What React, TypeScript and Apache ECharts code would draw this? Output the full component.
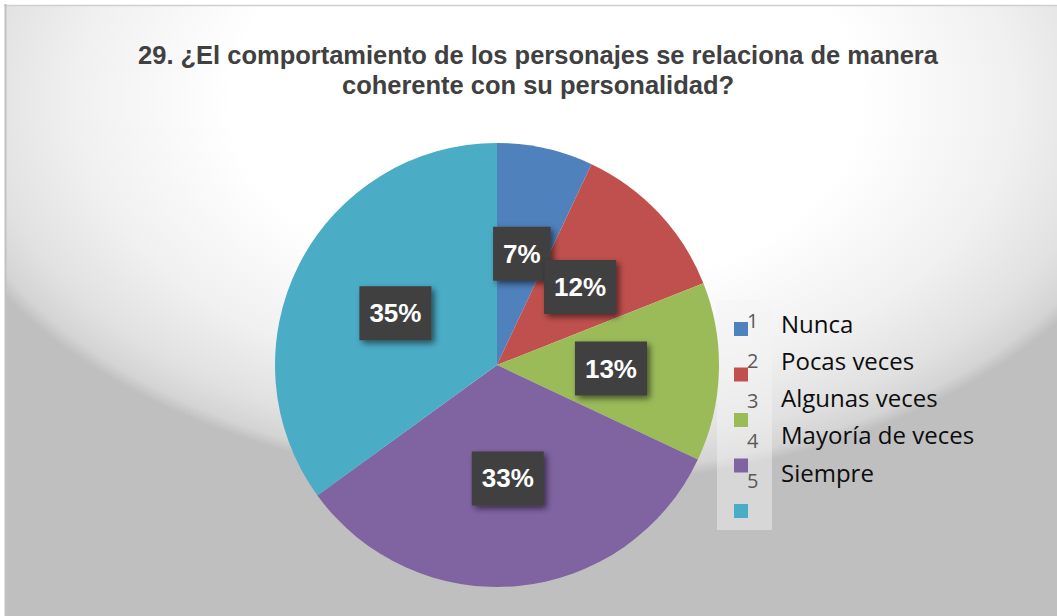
import React, { useEffect, useRef } from "react";
import * as echarts from "echarts";

const titleLines = [
  "29. ¿El comportamiento de los personajes se relaciona de manera",
  "coherente con su personalidad?",
];
const categories = ["Nunca", "Pocas veces", "Algunas veces", "Mayoría de veces", "Siempre"];
const values = [7, 12, 13, 33, 35];
const legendNumbers = ["1", "2", "3", "4", "5"];
const colors = ["#4f81bd", "#c0504d", "#9bbb59", "#8064a2", "#4bacc6"];

export default function App() {
  const ref = useRef<HTMLDivElement>(null);
  useEffect(() => {
    if (!ref.current) return;
    const chart = echarts.init(ref.current, undefined, { renderer: "svg" });
    const bg = new echarts.graphic.RadialGradient(0.491, 0.14, 0.571, [
      { offset: 0, color: "#ffffff" },
      { offset: 0.5, color: "#ffffff" },
      { offset: 0.75, color: "#f0f0f0" },
      { offset: 0.9, color: "#e1e1e1" },
      { offset: 0.97, color: "#d4d4d4" },
      { offset: 1, color: "#bfbfbf" },
    ]);
    const graphics: any[] = [
      { type: "rect", z: -20, silent: true, shape: { x: 5, y: 5, width: 1100, height: 676 }, style: { fill: bg } },
      { type: "line", z: -10, silent: true, shape: { x1: 4, y1: 5.5, x2: 1057, y2: 5.5 }, style: { stroke: "#cfcfcf", lineWidth: 1.5 } },
      { type: "line", z: -10, silent: true, shape: { x1: 5.5, y1: 4, x2: 5.5, y2: 616 }, style: { stroke: "#c2c2c2", lineWidth: 2 } },
      { type: "rect", z: -5, silent: true, shape: { x: 717, y: 300, width: 55, height: 230 }, style: { fill: "rgba(245,245,245,0.45)" } },
      {
        type: "text",
        z: 10,
        x: 538,
        y: 40,
        scaleX: 0.98,
        style: {
          text: titleLines.join("\n"),
          fontFamily: "'Liberation Sans Narrow', 'Liberation Sans', Arial, sans-serif",
          fontWeight: "bold",
          fontSize: 26,
          lineHeight: 30,
          fill: "#404040",
          align: "center",
          verticalAlign: "top",
        },
      },
    ];
    legendNumbers.forEach((n, i) => {
      graphics.push({
        type: "text",
        z: 10,
        x: 747,
        y: 320 + i * 40.2,
        style: { text: n, fontFamily: "'Open Sans', sans-serif", fontSize: 20, fill: "#595959", verticalAlign: "middle" },
      });
    });
    categories.forEach((c, i) => {
      graphics.push({
        type: "text",
        z: 10,
        x: 781,
        y: 323 + i * 37.3,
        style: { text: c, fontFamily: "'Open Sans', sans-serif", fontSize: 24, fill: "#0d0d0d", verticalAlign: "middle" },
      });
    });

    chart.setOption({
      animation: false,
      color: colors,
      graphic: graphics,
      legend: {
        orient: "vertical",
        left: 729,
        top: 317,
        itemWidth: 14,
        itemHeight: 14,
        itemGap: 31.5,
        selectedMode: false,
        icon: "rect",
        data: categories,
        formatter: () => "",
        textStyle: { fontSize: 1, lineHeight: 1 },
      },
      series: [
        {
          type: "pie",
          center: [497, 365],
          radius: 222,
          startAngle: 90,
          clockwise: true,
          silent: true,
          avoidLabelOverlap: false,
          labelLayout: { hideOverlap: false },
          emphasis: { disabled: true },
          labelLine: { show: false },
          label: {
            show: true,
            position: "inside",
            formatter: "{c}%",
            fontFamily: "'Liberation Sans', Arial, sans-serif",
            fontWeight: "bold",
            fontSize: 26,
            lineHeight: 26,
            color: "#ffffff",
            backgroundColor: "#3f3f3f",
            padding: [14, 10],
            shadowColor: "rgba(0,0,0,0.55)",
            shadowBlur: 6,
            shadowOffsetX: 3,
            shadowOffsetY: 3,
          },
          data: categories.map((name, i) => ({ name, value: values[i] })),
        },
      ],
    });
    return () => chart.dispose();
  }, []);
  return <div ref={ref} style={{ position: "absolute", left: 0, top: 0, width: 1057, height: 616 }} />;
}
